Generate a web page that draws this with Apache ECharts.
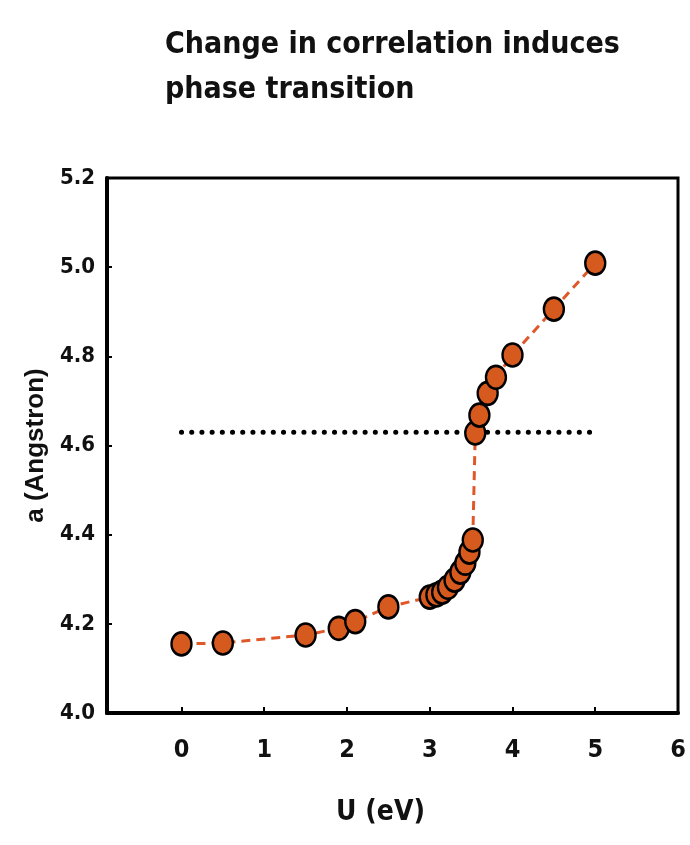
<!DOCTYPE html>
<html>
<head>
<meta charset="utf-8">
<script src="https://cdn.jsdelivr.net/npm/echarts@6/dist/echarts.min.js"></script>
<style>
  html, body { margin: 0; padding: 0; background: #fff; }
  #chart { width: 690px; height: 845px; }
</style>
</head>
<body>
<div id="chart"></div>
<script>
var uVals = [0, 0.5, 1.5, 1.9, 2.1, 2.5, 3.0, 3.08, 3.15, 3.22, 3.3, 3.37, 3.43, 3.48, 3.52, 3.55, 3.6, 3.7, 3.8, 4.0, 4.5, 5.0];
var aVals = [4.155, 4.157, 4.175, 4.19, 4.205, 4.238, 4.26, 4.265, 4.271, 4.282, 4.298, 4.316, 4.336, 4.361, 4.388, 4.628, 4.668, 4.717, 4.753, 4.803, 4.906, 5.009];
var dotLineX = [0, 5];
var dotLineY = 4.63;
var xTicks = [0, 1, 2, 3, 4, 5, 6];

var narrow = '"Liberation Sans Narrow", "DejaVu Sans Condensed", sans-serif';
var chart = echarts.init(document.getElementById('chart'));

chart.setOption({
    animation: false,
    title: {
        text: 'Change in correlation induces\nphase transition',
        left: 160,
        top: 18,
        textStyle: {
            fontFamily: narrow,
            fontWeight: 'bold',
            fontSize: 30,
            lineHeight: 45,
            color: '#111'
        }
    },
    grid: {
        left: 107,
        right: 12,
        top: 178,
        bottom: 132,
        show: true,
        borderColor: '#000',
        borderWidth: 3
    },
    xAxis: {
        type: 'value',
        min: -0.9,
        max: 6,
        name: 'U (eV)',
        nameLocation: 'middle',
        nameGap: 86,
        nameTextStyle: {
            fontFamily: narrow,
            fontWeight: 'bold',
            fontSize: 28,
            color: '#111',
            padding: [0, 24, 0, 0]
        },
        splitLine: { show: false },
        axisLine: { onZero: false, lineStyle: { color: '#000', width: 4 } },
        axisTick: {
            inside: true,
            length: 6,
            customValues: [0, 1, 2, 3, 4, 5],
            lineStyle: { color: '#000', width: 2 }
        },
        axisLabel: {
            customValues: xTicks,
            margin: 25,
            fontFamily: narrow,
            fontWeight: 'bold',
            fontSize: 25,
            color: '#111'
        }
    },
    yAxis: {
        type: 'value',
        min: 4.0,
        max: 5.2,
        interval: 0.2,
        name: 'a (Angstron)',
        nameLocation: 'middle',
        nameGap: 58,
        nameTextStyle: {
            fontFamily: '"Liberation Sans", Arial, sans-serif',
            fontWeight: 'bold',
            fontSize: 26,
            color: '#111'
        },
        splitLine: { show: false },
        axisLine: { onZero: false, lineStyle: { color: '#000', width: 4 } },
        axisTick: {
            inside: true,
            length: 5,
            lineStyle: { color: '#000', width: 2 }
        },
        axisLabel: {
            margin: 12,
            fontFamily: narrow,
            fontWeight: 'bold',
            fontSize: 22,
            color: '#111',
            padding: [12, 0, 0, 0],
            formatter: function (v) {
                return v.toFixed(1);
            }
        }
    },
    series: [
        {
            name: 'threshold',
            type: 'line',
            z: 1,
            symbol: 'none',
            data: dotLineX.map(x => [x, dotLineY]),
            lineStyle: {
                color: '#000',
                width: 5,
                type: [0.1, 10.1],
                cap: 'round'
            }
        },
        {
            name: 'a',
            type: 'line',
            z: 2,
            data: uVals.map((u, i) => [u, aVals[i]]),
            symbol: 'circle',
            symbolSize: [20, 23],
            itemStyle: {
                color: '#d65a1e',
                borderColor: '#000',
                borderWidth: 2.5
            },
            lineStyle: {
                color: '#e0582a',
                width: 3,
                type: [9, 6]
            }
        }
    ]
});
</script>
</body>
</html>
